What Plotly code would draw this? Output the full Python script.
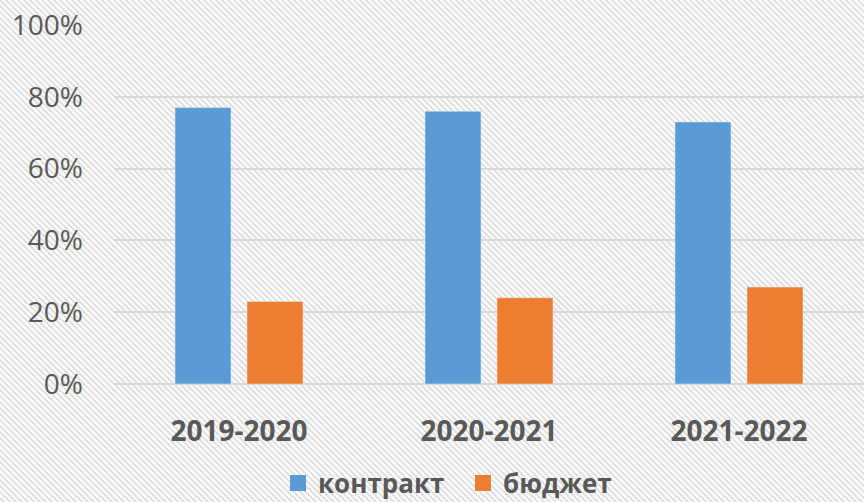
import base64
import plotly.graph_objects as go

categories = ["2019-2020", "2020-2021", "2021-2022"]
contract = [0.77, 0.76, 0.73]
budget = [0.23, 0.24, 0.27]
series_names = ["контракт", "бюджет"]
colors = ["#5b9bd5", "#ed7d31"]

W, H = 864, 502
L, R, T, B = 114, 0, 25, 118
pw, ph = W - L - R, H - T - B

svg = f'''<svg xmlns="http://www.w3.org/2000/svg" width="{W}" height="{H}" viewBox="0 0 {W} {H}" preserveAspectRatio="none">
<defs><pattern id="p" patternUnits="userSpaceOnUse" width="6" height="6">
<rect width="6" height="6" fill="#ffffff"/>
<path d="M-1,-1 L7,7 M-1,5 L1,7 M5,-1 L7,1" stroke="#e0e0e0" stroke-width="2"/>
</pattern></defs>
<rect width="{W}" height="{H}" fill="url(#p)"/></svg>'''
src = "data:image/svg+xml;base64," + base64.b64encode(svg.encode()).decode()

font_fam = "Open Sans"
gray = "#595959"

fig = go.Figure()
fig.add_trace(go.Bar(x=categories, y=contract, name=series_names[0],
                     marker_color=colors[0], showlegend=False, legendgroup="a"))
fig.add_trace(go.Bar(x=categories, y=budget, name=series_names[1],
                     marker_color=colors[1], showlegend=False, legendgroup="b"))
# legend-only entries with larger square swatches
for nm, c, g in zip(series_names, colors, ["a", "b"]):
    fig.add_trace(go.Scatter(x=[None], y=[None], mode="markers", name=nm, legendgroup=g,
                             marker=dict(symbol="square", size=18, color=c)))

fig.update_layout(
    width=W, height=H,
    margin=dict(l=L, r=R, t=T, b=B, autoexpand=False),
    paper_bgcolor="white",
    plot_bgcolor="rgba(0,0,0,0)",
    barmode="group",
    bargap=0.424,
    bargroupgap=0.222,
    font=dict(family=font_fam, color=gray),
    images=[dict(source=src, xref="paper", yref="paper",
                 x=-L / pw, y=1 + T / ph, sizex=W / pw, sizey=H / ph,
                 xanchor="left", yanchor="top", sizing="stretch", layer="below")],
    legend=dict(orientation="h", xref="container", yref="container",
                x=278 / W, y=19 / H, xanchor="left", yanchor="middle",
                font=dict(size=26, family=font_fam, color=gray, weight="bold"),
                bgcolor="rgba(0,0,0,0)", itemwidth=30, itemsizing="trace",
                entrywidth=140, entrywidthmode="pixels", tracegroupgap=0),
    showlegend=True,
)
fig.update_yaxes(range=[0, 1], dtick=0.2, tickformat=".0%",
                 gridcolor="#d9d9d9", gridwidth=2,
                 zeroline=True, zerolinecolor="#d9d9d9", zerolinewidth=2,
                 showline=False, ticks="", ticklabelstandoff=30,
                 tickfont=dict(size=28, family=font_fam, color=gray))
fig.update_xaxes(showline=False, showgrid=False, ticks="",
                 ticklabelstandoff=28,
                 tickfont=dict(size=28, family=font_fam, color=gray, weight="bold"))

fig.write_html("out.html", config={"displayModeBar": False},
               post_script="document.body.style.margin='0';")
